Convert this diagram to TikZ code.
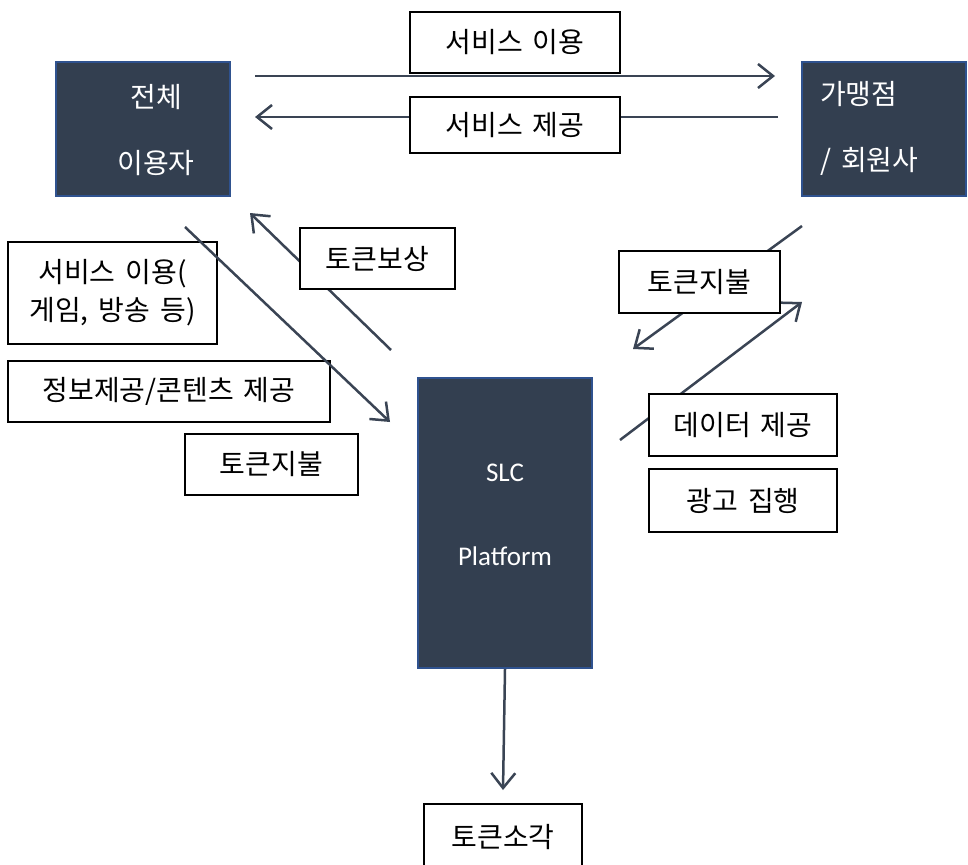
\documentclass[tikz,border=0pt]{standalone}
\usepackage{fontspec}
\setmainfont{Noto Sans CJK KR}[WordSpace=1.6]
\newfontfamily\latinfont{Carlito}
\usetikzlibrary{arrows.meta}
\definecolor{darkfill}{HTML}{333F50}
\definecolor{darkedge}{HTML}{2F528F}
\definecolor{arrowc}{HTML}{3A4454}
\begin{document}
\begin{tikzpicture}[x=1pt,y=-1pt,
  darkbox/.style={draw=darkedge, line width=2.2pt, fill=darkfill, inner sep=0pt},
  darklbl/.style={text=white, inner sep=0pt, font=\fontsize{28}{66}\selectfont},
  tbox/.style={draw=black, line width=2pt, fill=white, inner sep=0pt, align=center,
    font=\fontsize{28}{38}\selectfont},
  conn/.style={draw=arrowc, line width=2.5pt,
    -{Straight Barb[length=15pt,width=24pt]}}]
\clip (0,0) rectangle (968,864);
\fill[white] (0,0) rectangle (968,864);

% dark nodes
\node[darkbox, minimum width=174pt, minimum height=134pt] (user) at (143,129) {};
\node[darkbox, minimum width=164pt, minimum height=134pt] (merch) at (884,129) {};
\node[darkbox, minimum width=174pt, minimum height=290pt] (plat) at (505,523) {};
\node[darklbl, align=center] (userlbl) at (156,130) {전체\\이용자};
\node[darklbl, align=left, anchor=west] (merchlbl) at (820,128) {가맹점\\/ 회원사};
\node[darklbl, align=center, font=\latinfont\fontsize{27}{84}\selectfont] (platlbl) at (505,515) {SLC\\Platform};

% coordinates for free ends
\coordinate (c1s) at (255,76);  \coordinate (c1e) at (775,76);
\coordinate (c2s) at (778,117); \coordinate (c2e) at (255,117);
\coordinate (c3s) at (185,227); \coordinate (c3e) at (390,422);
\coordinate (c4s) at (391,350); \coordinate (c4e) at (250,213);
\coordinate (c5s) at (802,226); \coordinate (c5e) at (633,349);
\coordinate (c6s) at (620,440); \coordinate (c6e) at (802,302);
\coordinate (c7e) at (503,790);

% connectors beneath labels
\draw[conn] (c1s) -- (c1e);
\draw[conn] (c2s) -- (c2e);
\draw[conn] (c4s) -- (c4e);
\draw[conn] (c5s) -- (c5e);
\draw[conn] (c6s) -- (c6e);
\draw[conn] (plat.south) -- (c7e);

% label boxes
\node[tbox, minimum width=210pt, minimum height=61pt] (svcuse) at (515,42.5) {서비스 이용};
\node[tbox, minimum width=210pt, minimum height=56pt] (svcprov) at (515,125) {서비스 제공};
\node[tbox, minimum width=209pt, minimum height=102pt] (userv) at (112.5,293) {서비스 이용(\\게임, 방송 등)};
\node[tbox, minimum width=322pt, minimum height=61pt] (info) at (169,391.5) {정보제공/콘텐츠 제공};
\node[tbox, minimum width=173pt, minimum height=61pt] (payL) at (271.5,464.5) {토큰지불};
\node[tbox, minimum width=155pt, minimum height=61pt] (reward) at (377.5,258.5) {토큰보상};
\node[tbox, minimum width=161pt, minimum height=62pt] (payR) at (699.5,282) {토큰지불};
\node[tbox, minimum width=188pt, minimum height=62pt] (data) at (743,425) {데이터 제공};
\node[tbox, minimum width=188pt, minimum height=63pt] (ad) at (743,500.5) {광고 집행};
\node[tbox, minimum width=158pt, minimum height=66pt] (burn) at (503,837) {토큰소각};

% connector drawn over the boxes
\draw[conn] (c3s) -- (c3e);
\end{tikzpicture}
\end{document}
